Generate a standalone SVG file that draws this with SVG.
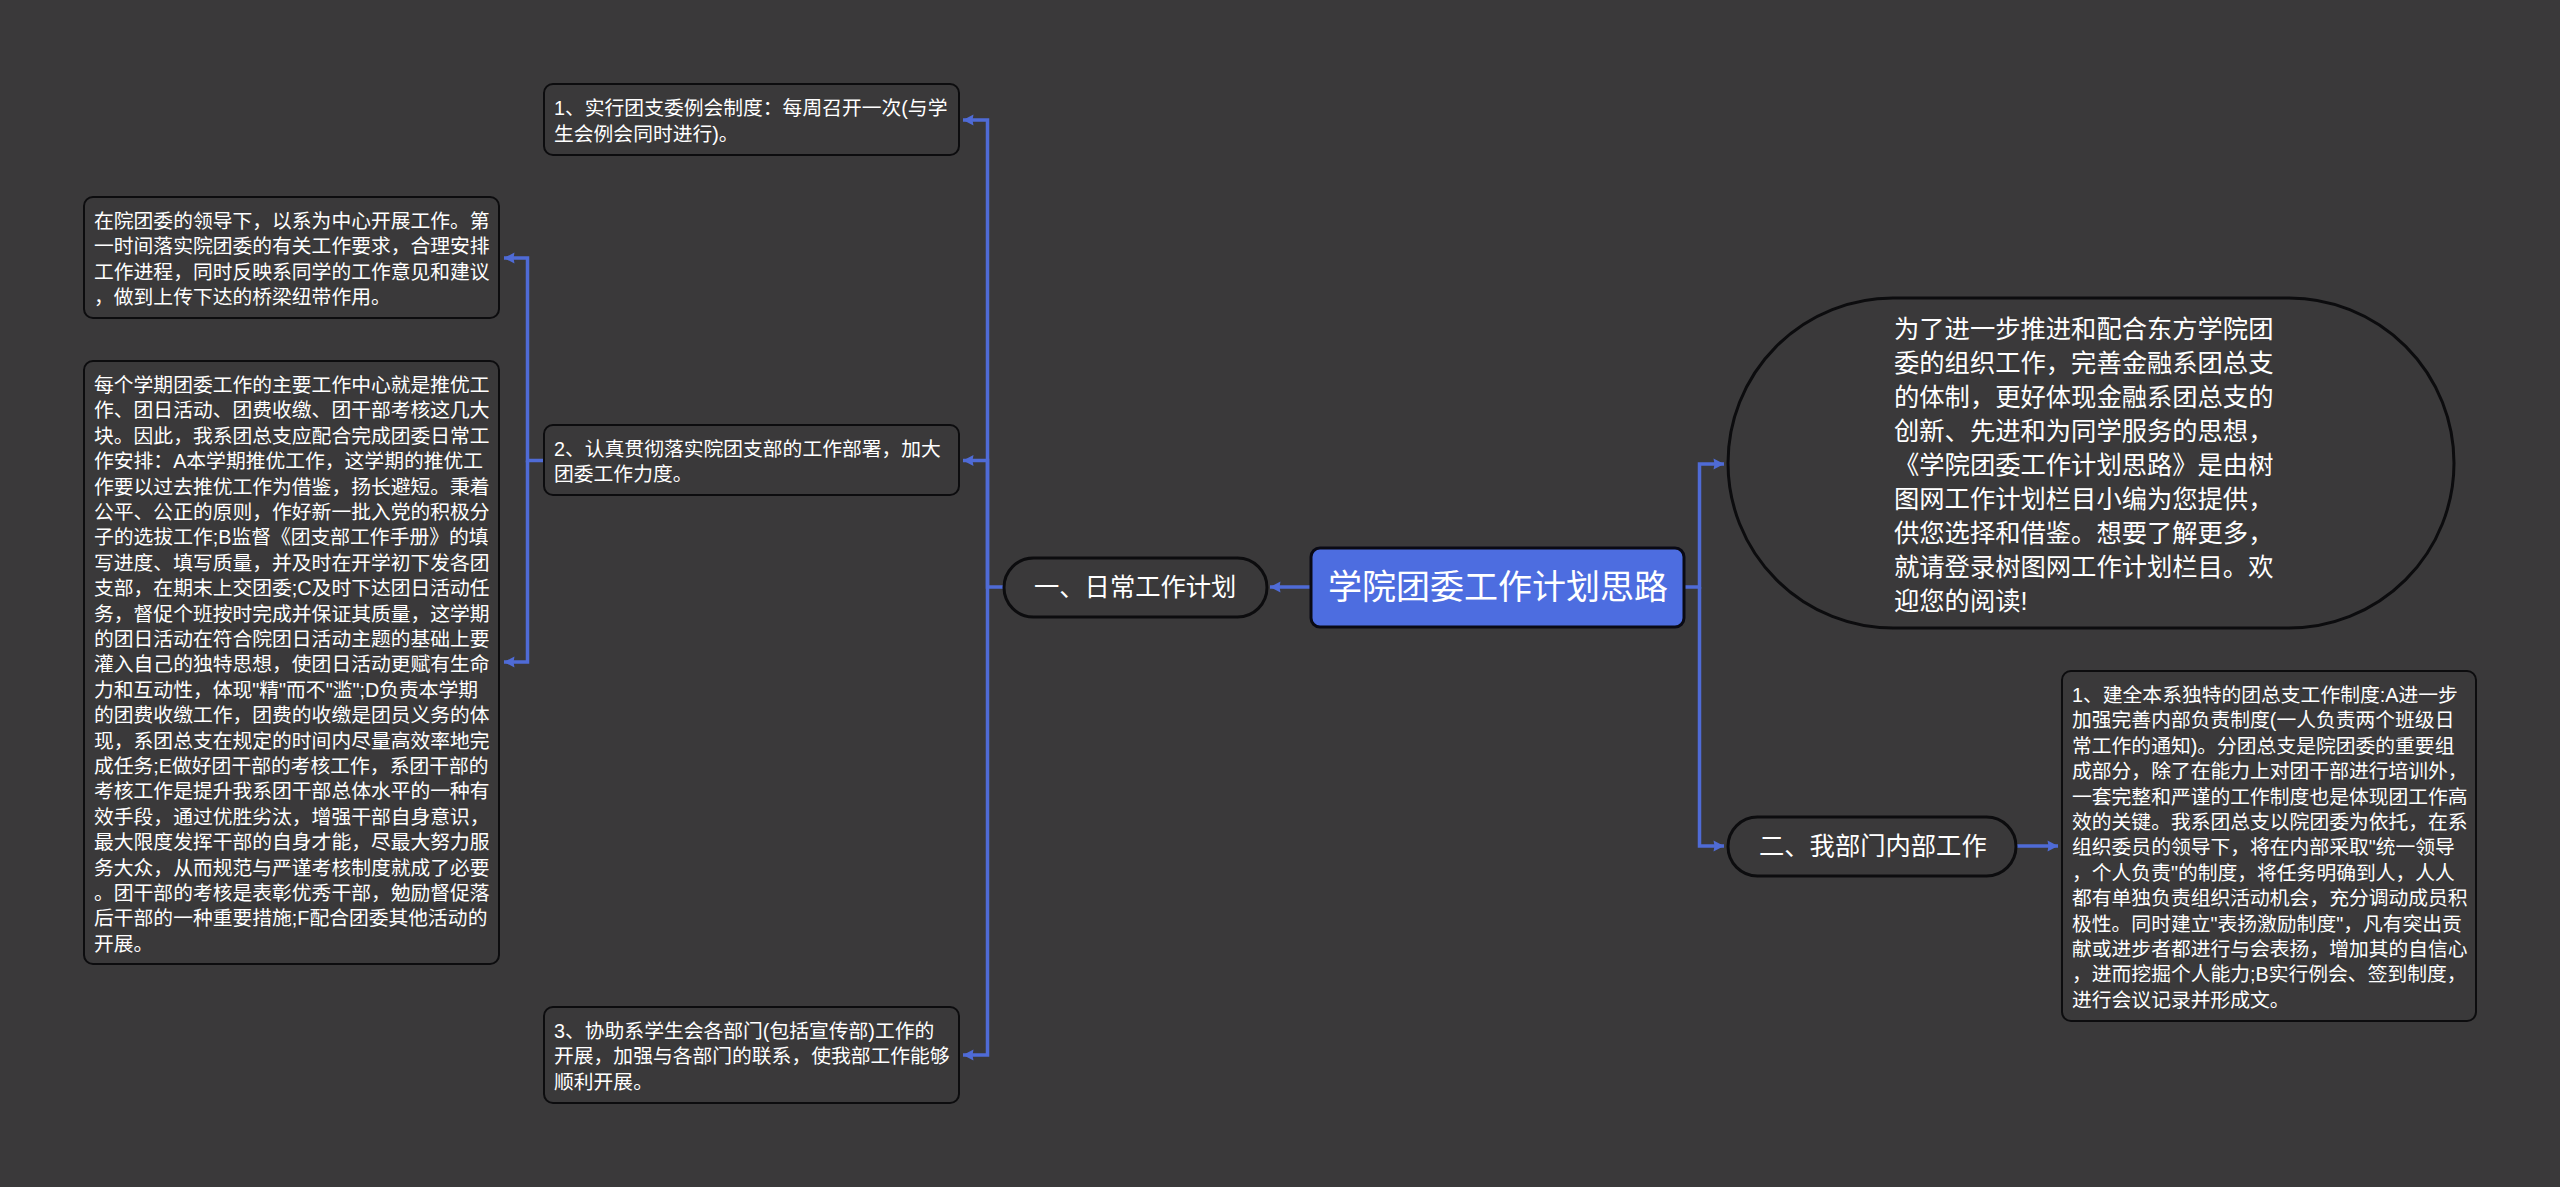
<svg xmlns="http://www.w3.org/2000/svg" width="2560" height="1187" viewBox="0 0 2560 1187">
<style>
text{font-family:"Liberation Sans","Noto Sans CJK SC",sans-serif;fill:#fff}
.b{fill:#3a393a;stroke:#0c0c0e;stroke-width:2}
.p{stroke-width:3}
.t{font-size:19.8px}
.m{font-size:25.3px}
.c{fill:none;stroke:#4f6bd6;stroke-width:3.5}
</style>
<defs><marker id="a" markerUnits="userSpaceOnUse" markerWidth="12" markerHeight="12" refX="11" refY="6" orient="auto"><path d="M0.500 0.500L11 6L0.500 11.500L1.500 6Z" fill="#4f6bd6"/></marker></defs>
<rect width="2560" height="1187" fill="#3a393a"/>
<g id="connectors">
<path class="c" d="M1684 587H1699.500V464H1724" marker-end="url(#a)"/>
<path class="c" d="M1699.500 587V846H1724" marker-end="url(#a)"/>
<path class="c" d="M2016 846H2058" marker-end="url(#a)"/>
<path class="c" d="M1311 587H1270" marker-end="url(#a)"/>
<path class="c" d="M1004 587H987.500V120H963" marker-end="url(#a)"/>
<path class="c" d="M987.500 587V460.500H963" marker-end="url(#a)"/>
<path class="c" d="M987.500 587V1055H963" marker-end="url(#a)"/>
<path class="c" d="M544 460.500H527.500V258H504" marker-end="url(#a)"/>
<path class="c" d="M527.500 460.500V662H504" marker-end="url(#a)"/>
</g>
<g id="root"><rect x="1311" y="548" width="373" height="79" rx="9" fill="#4d6de0" stroke="#0a0a14" stroke-width="3"/><text x="1328" y="599" font-size="34px">学院团委工作计划思路</text></g>
<g id="intro"><rect class="b p" x="1728" y="298" width="726" height="330" rx="165"/>
<text class="m"><tspan x="1894" y="338">为了进一步推进和配合东方学院团</tspan><tspan x="1894" y="372">委的组织工作，完善金融系团总支</tspan><tspan x="1894" y="406">的体制，更好体现金融系团总支的</tspan><tspan x="1894" y="440">创新、先进和为同学服务的思想，</tspan><tspan x="1894" y="474">《学院团委工作计划思路》是由树</tspan><tspan x="1894" y="508">图网工作计划栏目小编为您提供，</tspan><tspan x="1894" y="542">供您选择和借鉴。想要了解更多，</tspan><tspan x="1894" y="576">就请登录树图网工作计划栏目。欢</tspan><tspan x="1894" y="610">迎您的阅读!</tspan></text></g>
<g id="branch2"><rect class="b p" x="1728" y="817" width="288" height="59" rx="29.500"/><text class="m" x="1759" y="855">二、我部门内部工作</text></g>
<g id="branch2-1"><rect class="b" x="2062" y="671" width="414" height="350" rx="9"/>
<text class="t"><tspan x="2072" y="702">1、建全本系独特的团总支工作制度:A进一步</tspan><tspan x="2072" y="727.400">加强完善内部负责制度(一人负责两个班级日</tspan><tspan x="2072" y="752.800">常工作的通知)。分团总支是院团委的重要组</tspan><tspan x="2072" y="778.200">成部分，除了在能力上对团干部进行培训外，</tspan><tspan x="2072" y="803.600">一套完整和严谨的工作制度也是体现团工作高</tspan><tspan x="2072" y="829">效的关键。我系团总支以院团委为依托，在系</tspan><tspan x="2072" y="854.400">组织委员的领导下，将在内部采取"统一领导</tspan><tspan x="2072" y="879.800">，个人负责"的制度，将任务明确到人，人人</tspan><tspan x="2072" y="905.200">都有单独负责组织活动机会，充分调动成员积</tspan><tspan x="2072" y="930.600">极性。同时建立"表扬激励制度"，凡有突出贡</tspan><tspan x="2072" y="956">献或进步者都进行与会表扬，增加其的自信心</tspan><tspan x="2072" y="981.400">，进而挖掘个人能力;B实行例会、签到制度，</tspan><tspan x="2072" y="1006.800">进行会议记录并形成文。</tspan></text></g>
<g id="branch1"><rect class="b p" x="1004" y="558" width="263" height="59" rx="29.500"/><text class="m" x="1034" y="596">一、日常工作计划</text></g>
<g id="b1-1"><rect class="b" x="544" y="84" width="415" height="71" rx="9"/>
<text class="t"><tspan x="554" y="115">1、实行团支委例会制度：每周召开一次(与学</tspan><tspan x="554" y="141">生会例会同时进行)。</tspan></text></g>
<g id="b1-2"><rect class="b" x="544" y="425" width="415" height="70" rx="9"/>
<text class="t"><tspan x="554" y="455.500">2、认真贯彻落实院团支部的工作部署，加大</tspan><tspan x="554" y="481">团委工作力度。</tspan></text></g>
<g id="b1-3"><rect class="b" x="544" y="1007" width="415" height="96" rx="9"/>
<text class="t"><tspan x="554" y="1038">3、协助系学生会各部门(包括宣传部)工作的</tspan><tspan x="554" y="1063.400">开展，加强与各部门的联系，使我部工作能够</tspan><tspan x="554" y="1088.800">顺利开展。</tspan></text></g>
<g id="b1-2-1"><rect class="b" x="84" y="197" width="415" height="121" rx="9"/>
<text class="t"><tspan x="94" y="228">在院团委的领导下，以系为中心开展工作。第</tspan><tspan x="94" y="253.400">一时间落实院团委的有关工作要求，合理安排</tspan><tspan x="94" y="278.800">工作进程，同时反映系同学的工作意见和建议</tspan><tspan x="94" y="304.200">，做到上传下达的桥梁纽带作用。</tspan></text></g>
<g id="b1-2-2"><rect class="b" x="84" y="361" width="415" height="603" rx="9"/>
<text class="t"><tspan x="94" y="392">每个学期团委工作的主要工作中心就是推优工</tspan><tspan x="94" y="417.400">作、团日活动、团费收缴、团干部考核这几大</tspan><tspan x="94" y="442.800">块。因此，我系团总支应配合完成团委日常工</tspan><tspan x="94" y="468.200">作安排：A本学期推优工作，这学期的推优工</tspan><tspan x="94" y="493.600">作要以过去推优工作为借鉴，扬长避短。秉着</tspan><tspan x="94" y="519">公平、公正的原则，作好新一批入党的积极分</tspan><tspan x="94" y="544.400">子的选拔工作;B监督《团支部工作手册》的填</tspan><tspan x="94" y="569.800">写进度、填写质量，并及时在开学初下发各团</tspan><tspan x="94" y="595.200">支部，在期末上交团委;C及时下达团日活动任</tspan><tspan x="94" y="620.600">务，督促个班按时完成并保证其质量，这学期</tspan><tspan x="94" y="646">的团日活动在符合院团日活动主题的基础上要</tspan><tspan x="94" y="671.400">灌入自己的独特思想，使团日活动更赋有生命</tspan><tspan x="94" y="696.800">力和互动性，体现"精"而不"滥";D负责本学期</tspan><tspan x="94" y="722.200">的团费收缴工作，团费的收缴是团员义务的体</tspan><tspan x="94" y="747.600">现，系团总支在规定的时间内尽量高效率地完</tspan><tspan x="94" y="773">成任务;E做好团干部的考核工作，系团干部的</tspan><tspan x="94" y="798.400">考核工作是提升我系团干部总体水平的一种有</tspan><tspan x="94" y="823.800">效手段，通过优胜劣汰，增强干部自身意识，</tspan><tspan x="94" y="849.200">最大限度发挥干部的自身才能，尽最大努力服</tspan><tspan x="94" y="874.600">务大众，从而规范与严谨考核制度就成了必要</tspan><tspan x="94" y="900">。团干部的考核是表彰优秀干部，勉励督促落</tspan><tspan x="94" y="925.400">后干部的一种重要措施;F配合团委其他活动的</tspan><tspan x="94" y="950.800">开展。</tspan></text></g>
</svg>
